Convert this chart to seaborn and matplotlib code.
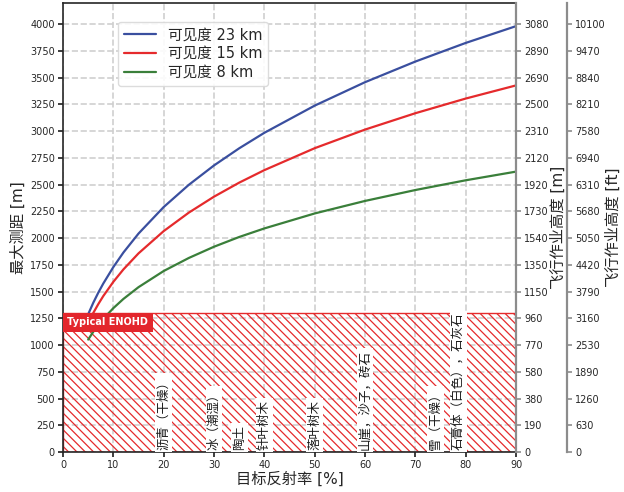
import matplotlib
matplotlib.use("Agg")
import matplotlib.pyplot as plt
import pandas as pd
import seaborn as sns

# Maximum measuring range versus target reflectance, for three visibilities
reflectance = [5, 6, 7, 8, 10, 12, 15, 20, 25, 30, 35, 40, 50, 60, 70, 80, 90]
range_vis23 = [1288, 1394, 1489, 1575, 1729, 1865, 2042, 2290, 2498, 2679,
               2839, 2984, 3238, 3457, 3650, 3824, 3981]
range_vis15 = [1206, 1299, 1382, 1458, 1591, 1707, 1857, 2065, 2238, 2387,
               2518, 2635, 2840, 3014, 3167, 3304, 3427]
range_vis8 = [1051, 1123, 1187, 1245, 1345, 1431, 1541, 1692, 1814, 1919,
              2010, 2090, 2230, 2347, 2449, 2540, 2621]
series_labels = ["可见度 23 km", "可见度 15 km", "可见度 8 km"]
series_colors = ["#3a4f9f", "#e52a2c", "#3a7f3a"]

# Eye-safety zone (typical ENOHD) and typical target materials
enohd = 1300
materials = ["沥青（干燥）", "冰（潮湿）", "陶土", "针叶树木", "落叶树木",
             "山崖，沙子，砖石", "雪（干燥）", "石膏体（白色），石灰石"]
material_refl = [20, 30, 35, 40, 50, 60, 74, 78.5]

# Secondary axes: flight altitude in metres and in feet
range_ticks = [0, 250, 500, 750, 1000, 1250, 1500, 1750, 2000, 2250, 2500,
               2750, 3000, 3250, 3500, 3750, 4000]
height_m_labels = ["0", "190", "380", "580", "770", "960", "1150", "1350",
                   "1540", "1730", "1920", "2120", "2310", "2500", "2690",
                   "2890", "3080"]
height_ft_labels = ["0", "630", "1260", "1890", "2530", "3160", "3790", "4420",
                    "5050", "5680", "6310", "6940", "7580", "8210", "8840",
                    "9470", "10100"]

sns.set_theme(style="ticks", rc={
    "axes.grid": True,
    "grid.linestyle": "--",
    "grid.color": "#cfcfcf",
    "grid.linewidth": 1.2,
    "axes.edgecolor": "#262626",
    "axes.linewidth": 1.2,
    "xtick.labelsize": 7,
    "ytick.labelsize": 7,
    "xtick.color": "#262626",
    "ytick.color": "#262626",
    "xtick.major.size": 3.5,
    "ytick.major.size": 3.5,
    "xtick.major.pad": 2.5,
    "ytick.major.pad": 2.5,
    "hatch.linewidth": 0.9,
})
plt.rcParams["font.family"] = ["DejaVu Sans", "Noto Sans CJK SC"]

records = []
for label, values in zip(series_labels, [range_vis23, range_vis15, range_vis8]):
    for r, v in zip(reflectance, values):
        records.append({"refl": r, "range": v, "series": label})
df = pd.DataFrame(records)

fig = plt.figure(figsize=(6.24, 4.92), dpi=100)
ax = fig.add_axes([0.101, 0.0813, 0.726, 0.9132])

red = "#e52a2c"
ax.fill_between([0, 90], 0, enohd, facecolor="none", edgecolor=red,
                hatch="\\\\\\\\", linewidth=1.0, zorder=1.5)

sns.lineplot(data=df, x="refl", y="range", hue="series",
             palette=dict(zip(series_labels, series_colors)),
             linewidth=1.6, ax=ax, zorder=3)

ax.annotate("Typical ENOHD", xy=(0, enohd), xytext=(3.2, -3.2),
            textcoords="offset points", ha="left", va="top",
            fontsize=7, fontweight="bold", color="white", zorder=5,
            bbox=dict(boxstyle="square,pad=0.5", facecolor="#e3262c",
                      edgecolor="none"))

for name, x in zip(materials, material_refl):
    ax.annotate(name, xy=(x, 0), xytext=(0, 1.5), textcoords="offset points",
                rotation=90, ha="center", va="bottom", fontsize=9,
                color="#1a1a1a", zorder=4,
                bbox=dict(boxstyle="square,pad=0.15", facecolor="white",
                          edgecolor="none"))

ax.set_xlim(0, 90)
ax.set_ylim(0, 4200)
ax.set_xticks(range(0, 91, 10))
ax.set_yticks(range_ticks)
ax.set_xlabel("目标反射率 [%]", fontsize=11, labelpad=1)
ax.set_ylabel("最大测距 [m]", fontsize=11, labelpad=3)
for s in ["top", "right"]:
    ax.spines[s].set_visible(True)

leg = ax.legend(loc="upper left", bbox_to_anchor=(0.122, 0.958),
                borderaxespad=0, fontsize=10.5, labelspacing=0.25,
                handlelength=2.2, frameon=True, fancybox=True,
                framealpha=0.9, edgecolor="#d9d9d9")

gray = "#8c8c8c"
ax2 = ax.twinx()
ax2.set_ylim(ax.get_ylim())
ax2.set_yticks(range_ticks, height_m_labels)
ax2.set_ylabel("飞行作业高度 [m]", fontsize=11, labelpad=1)
ax2.grid(False)

ax3 = ax.twinx()
ax3.set_ylim(ax.get_ylim())
ax3.spines["right"].set_position(("axes", 1.112))
ax3.set_yticks(range_ticks, height_ft_labels)
ax3.set_ylabel("飞行作业高度 [ft]", fontsize=11, labelpad=0)
ax3.grid(False)

for a in (ax2, ax3):
    a.spines["right"].set_color(gray)
    a.spines["right"].set_linewidth(1.6)
    a.tick_params(axis="y", colors="#262626", color=gray, width=1.2,
                  length=3.5, pad=2.5)
    for s in ["top", "left", "bottom"]:
        a.spines[s].set_visible(False)

fig.savefig("out.png", dpi=100)
